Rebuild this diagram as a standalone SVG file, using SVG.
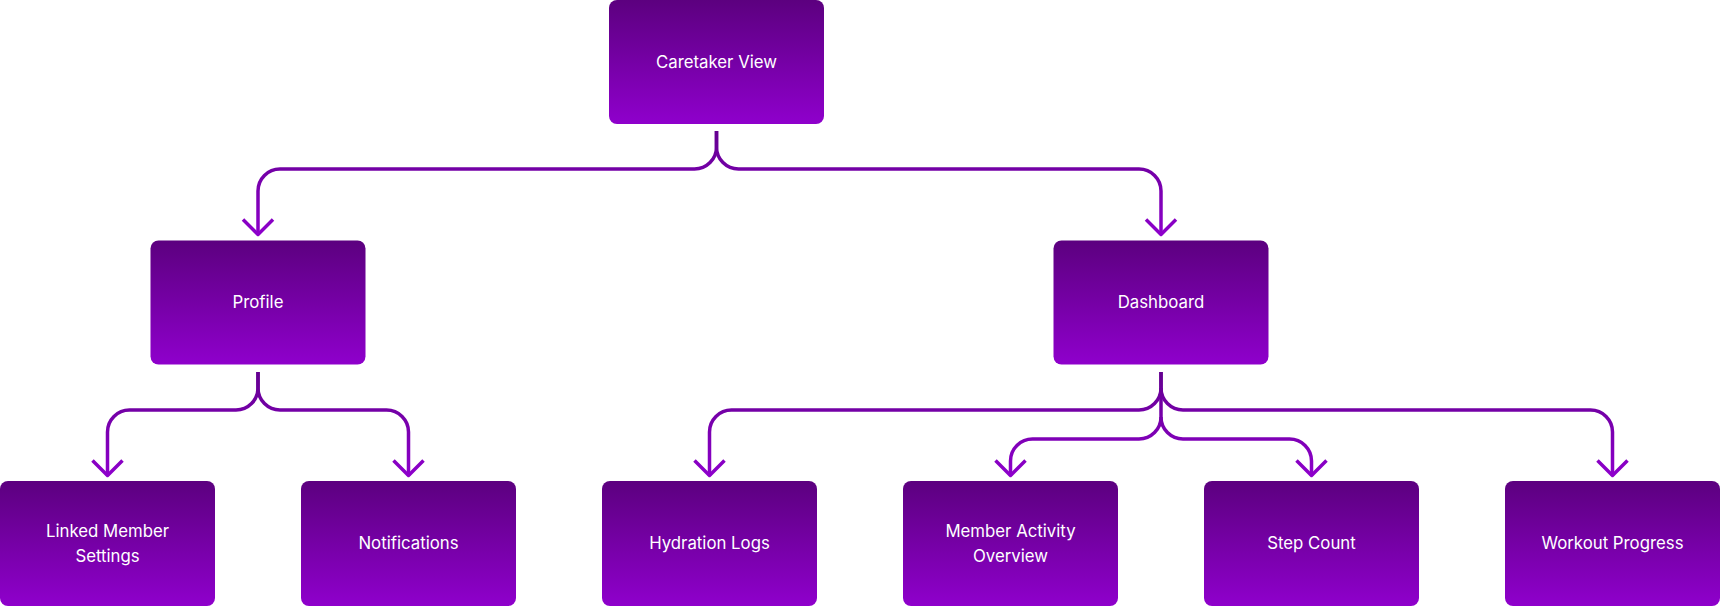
<svg xmlns="http://www.w3.org/2000/svg" width="1720" height="607" viewBox="0 0 1720 607">
  <defs>
    <linearGradient id="nodeGrad" x1="0" y1="0" x2="0" y2="1">
      <stop offset="0" stop-color="#5c007f"/>
      <stop offset="1" stop-color="#8f00cc"/>
    </linearGradient>
    <linearGradient id="edgeGrad1" gradientUnits="userSpaceOnUse" x1="0" y1="131" x2="0" y2="236">
      <stop offset="0" stop-color="#640090"/>
      <stop offset="1" stop-color="#8e00cc"/>
    </linearGradient>
    <linearGradient id="edgeGrad2" gradientUnits="userSpaceOnUse" x1="0" y1="372" x2="0" y2="477">
      <stop offset="0" stop-color="#640090"/>
      <stop offset="1" stop-color="#8e00cc"/>
    </linearGradient>
  </defs>
  <style>
    .node rect { fill: url(#nodeGrad); }
    .node text { fill: #ffffff; font-family: Inter, "Liberation Sans", sans-serif; font-size: 16.8px; text-anchor: middle; dominant-baseline: central; }
    .e1 { fill: none; stroke: url(#edgeGrad1); stroke-width: 3.5; stroke-linejoin: round; }
    .e2 { fill: none; stroke: url(#edgeGrad2); stroke-width: 3.5; stroke-linejoin: round; }
  </style>

  <g id="connectors">
    <!-- Caretaker View -> Profile / Dashboard -->
    <path class="e1" d="M716.5,131 V147 A22,22 0 0 1 694.5,169 H280 A22,22 0 0 0 258,191 V235"/>
    <path class="e1" d="M716.5,131 V147 A22,22 0 0 0 738.5,169 H1139 A22,22 0 0 1 1161,191 V235"/>
    <polyline class="e1" points="243,219.5 258,234.5 273,219.5"/>
    <polyline class="e1" points="1146,219.5 1161,234.5 1176,219.5"/>

    <!-- Profile -> Linked Member Settings / Notifications -->
    <path class="e2" d="M258,372 V388 A22,22 0 0 1 236,410 H129.5 A22,22 0 0 0 107.5,432 V476"/>
    <path class="e2" d="M258,372 V388 A22,22 0 0 0 280,410 H386.5 A22,22 0 0 1 408.5,432 V476"/>
    <polyline class="e2" points="92.5,460.5 107.5,475.5 122.5,460.5"/>
    <polyline class="e2" points="393.5,460.5 408.5,475.5 423.5,460.5"/>

    <!-- Dashboard -> children -->
    <path class="e2" d="M1161,372 V388 A22,22 0 0 1 1139,410 H731.5 A22,22 0 0 0 709.5,432 V476"/>
    <path class="e2" d="M1161,372 V388 A22,22 0 0 0 1183,410 H1590.5 A22,22 0 0 1 1612.5,432 V476"/>
    <path class="e2" d="M1161,388 V417 A22,22 0 0 1 1139,439 H1032.5 A22,22 0 0 0 1010.5,461 V476"/>
    <path class="e2" d="M1161,417 A22,22 0 0 0 1183,439 H1289.5 A22,22 0 0 1 1311.5,461 V476"/>
    <polyline class="e2" points="694.5,460.5 709.5,475.5 724.5,460.5"/>
    <polyline class="e2" points="995.5,460.5 1010.5,475.5 1025.5,460.5"/>
    <polyline class="e2" points="1296.5,460.5 1311.5,475.5 1326.5,460.5"/>
    <polyline class="e2" points="1597.5,460.5 1612.5,475.5 1627.5,460.5"/>
  </g>

  <g id="caretaker-view" class="node">
    <rect x="609" y="0" width="215" height="124" rx="8"/>
    <text x="716.5" y="61.5">Caretaker View</text>
  </g>
  <g id="profile" class="node">
    <rect x="150.5" y="240.5" width="215" height="124" rx="8"/>
    <text x="258" y="302">Profile</text>
  </g>
  <g id="dashboard" class="node">
    <rect x="1053.5" y="240.5" width="215" height="124" rx="8"/>
    <text x="1161" y="302">Dashboard</text>
  </g>
  <g id="linked-member-settings" class="node">
    <rect x="0" y="481" width="215" height="125" rx="8"/>
    <text x="107.5" y="530.5">Linked Member</text>
    <text x="107.5" y="555.5">Settings</text>
  </g>
  <g id="notifications" class="node">
    <rect x="301" y="481" width="215" height="125" rx="8"/>
    <text x="408.5" y="543">Notifications</text>
  </g>
  <g id="hydration-logs" class="node">
    <rect x="602" y="481" width="215" height="125" rx="8"/>
    <text x="709.5" y="543">Hydration Logs</text>
  </g>
  <g id="member-activity-overview" class="node">
    <rect x="903" y="481" width="215" height="125" rx="8"/>
    <text x="1010.5" y="530.5">Member Activity</text>
    <text x="1010.5" y="555.5">Overview</text>
  </g>
  <g id="step-count" class="node">
    <rect x="1204" y="481" width="215" height="125" rx="8"/>
    <text x="1311.5" y="543">Step Count</text>
  </g>
  <g id="workout-progress" class="node">
    <rect x="1505" y="481" width="215" height="125" rx="8"/>
    <text x="1612.5" y="543">Workout Progress</text>
  </g>
</svg>
